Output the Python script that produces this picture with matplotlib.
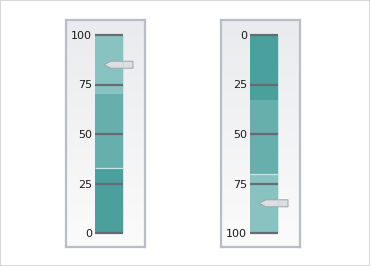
import matplotlib
matplotlib.use("Agg")
import matplotlib.pyplot as plt
import numpy as np
from matplotlib.patches import Rectangle, Polygon

# ---- data ----
tick_values = [0, 25, 50, 75, 100]
tick_labels = ["0", "25", "50", "75", "100"]
range_starts = [0, 33, 70]
range_ends = [33, 70, 100]
range_colors = ["#4b9f9c", "#67afac", "#88c3c1"]
pointer_value_1 = 85
pointer_value_2 = 85
gauge_reversed = [False, True]

W, H = 370, 266
fig = plt.figure(figsize=(W / 100, H / 100), dpi=100)
fig.patch.set_facecolor("white")


def px_axes(x0, y0, x1, y1, **kw):
    return fig.add_axes([x0 / W, 1 - y1 / H, (x1 - x0) / W, (y1 - y0) / H], **kw)


def draw_gauge(offset, reversed_, pointer_value, highlight):
    # frame with gradient
    fr = px_axes(66 + offset, 20, 145 + offset, 247)
    grad = np.linspace(0, 1, 100).reshape(-1, 1)
    cmap = matplotlib.colors.LinearSegmentedColormap.from_list("g", ["#eaebee", "#fbfbfb"])
    fr.imshow(grad, aspect="auto", cmap=cmap, extent=[0, 1, 0, 1], origin="upper")
    fr.set_xticks([]); fr.set_yticks([])
    for s in fr.spines.values():
        s.set_color("#babdc4"); s.set_linewidth(1.6)

    ax = px_axes(95 + offset, 35, 135 + offset, 233)
    ax.set_xlim(0, 40)
    if reversed_:
        ax.set_ylim(100, 0)
    else:
        ax.set_ylim(0, 100)
    ax.patch.set_alpha(0)
    for s in ax.spines.values():
        s.set_visible(False)
    ax.set_xticks([])
    ax.set_yticks(tick_values)
    ax.set_yticklabels(tick_labels)
    ax.tick_params(axis="y", length=0, pad=2, labelsize=8, labelcolor="#1a1a1a")

    for s0, e0, c in zip(range_starts, range_ends, range_colors):
        ax.bar(14, e0 - s0, width=28, bottom=s0, color=c, linewidth=0)
    ax.hlines(highlight, 0, 28, color="#c8e6e4", linewidth=0.9)
    ax.vlines(27.6, 0, 100, color="#a9d6d4", linewidth=0.6, alpha=0.6)
    ax.hlines(tick_values, 0, 28, color="#666c74", linewidth=1.6, clip_on=False)

    h = 3.5 * 100 / 198
    v = pointer_value
    poly = Polygon([(9, v), (16, v + h), (38, v + h), (38, v - h), (16, v - h)],
                   closed=True, facecolor="#dcdee2", edgecolor="#9fa4ab", linewidth=0.7)
    ax.add_patch(poly)


draw_gauge(0, gauge_reversed[0], pointer_value_1, 33)
draw_gauge(155, gauge_reversed[1], pointer_value_2, 70)

fig.patches.append(Rectangle((0, 0), 1, 1, transform=fig.transFigure, fill=False,
                             edgecolor="#cfcfcf", linewidth=1.2))
fig.savefig("out.png", dpi=100)
